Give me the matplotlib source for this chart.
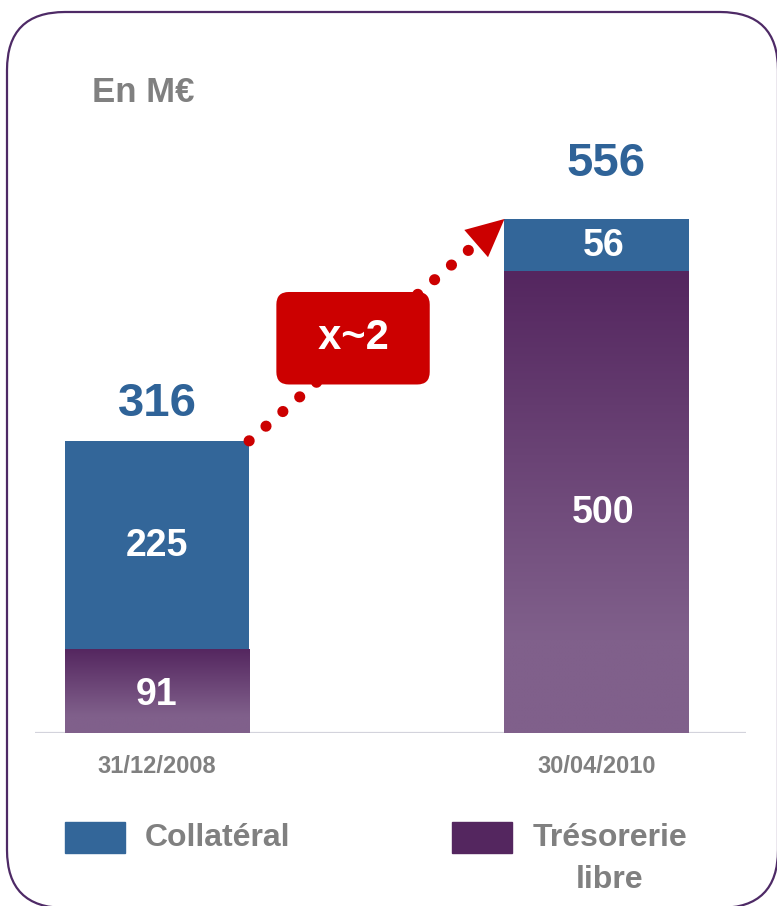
import numpy as np
import matplotlib
matplotlib.use("Agg")
import matplotlib.pyplot as plt
from matplotlib.colors import LinearSegmentedColormap
from matplotlib.patches import FancyBboxPatch, Rectangle
from matplotlib.transforms import IdentityTransform

# ---------------- data ----------------
categories = ["31/12/2008", "30/04/2010"]
collateral = [225, 56]
tresorerie = [91, 500]
totals = [316, 556]
growth_label = "x~2"
unit_label = "En M€"
legend_labels = ["Collatéral", "Trésorerie\nlibre"]

# ---------------- style ----------------
plt.rcParams["font.family"] = ["Liberation Sans", "DejaVu Sans"]
plt.rcParams["font.weight"] = "bold"
BLUE = "#336699"
PURPLE_DARK = "#54265F"
PURPLE_LIGHT = "#80608B"
GRAY = "#808080"
RED = "#CC0000"
BORDER = "#4E2A66"

W, H = 777, 906
fig = plt.figure(figsize=(W / 100, H / 100), dpi=100)
fig.patch.set_facecolor("white")

# rounded frame (display pixels)
frame = FancyBboxPatch((7, H - 908), 771, 896, boxstyle="round,pad=0,rounding_size=58",
                       transform=IdentityTransform(), fill=False, edgecolor=BORDER,
                       linewidth=1.6, zorder=0)
fig.patches.append(frame)

ax = fig.add_axes([35 / W, (H - 733) / H, 711 / W, 693 / H])
x = np.arange(len(categories))
bw = 0.419

bars_t = ax.bar(x, tresorerie, width=bw, color="none", edgecolor="none", zorder=2)
bars_c = ax.bar(x, collateral, bottom=tresorerie, width=bw, color=BLUE,
                edgecolor="none", zorder=2)

# gradient fill for the Trésorerie segments
cmap = LinearSegmentedColormap.from_list("purp", [PURPLE_DARK, PURPLE_LIGHT])
t = np.linspace(0, 1, 256)  # bottom -> top
grad = np.clip((1 - t) / 0.8, 0, 1).reshape(-1, 1)
for p in bars_t:
    x0, y0 = p.get_x(), p.get_y()
    im = ax.imshow(grad, extent=[x0, x0 + p.get_width(), y0, y0 + p.get_height()],
                   aspect="auto", cmap=cmap, vmin=0, vmax=1, origin="lower",
                   zorder=2, interpolation="bilinear")
    im.set_clip_path(p)

ax.set_xlim(-0.2776, 1.340)
ax.set_ylim(0, 693 / 0.9245)
for s in ax.spines.values():
    s.set_visible(False)
ax.set_yticks([])
ax.set_xticks(x, categories)
ax.tick_params(axis="x", length=0, pad=16, labelsize=17, labelcolor=GRAY)
ax.axhline(0, color="#D3D3DC", lw=1.6, zorder=1)

# label nudges (points)
label_dx = [0, 5]
seg_dy = [-3, -8]
total_dy = [11, 24]

# segment labels
for i in x:
    ax.annotate(str(tresorerie[i]), xy=(i, tresorerie[i] / 2), xytext=(label_dx[i], seg_dy[i]),
                textcoords="offset points", ha="center", va="center",
                color="white", fontsize=27, zorder=4)
    ax.annotate(str(collateral[i]), xy=(i, tresorerie[i] + collateral[i] / 2),
                xytext=(label_dx[i], -1), textcoords="offset points",
                ha="center", va="center", color="white", fontsize=27, zorder=4)

# totals
for i in x:
    ax.annotate(str(totals[i]), xy=(i, totals[i]), xytext=(label_dx[i] * 1.4, total_dy[i]),
                textcoords="offset points", ha="center", va="bottom",
                color="#2F6398", fontsize=34, zorder=4)

# dotted growth arrow
start = (x[0] + bw / 2, totals[0])
end = (x[1] - bw / 2, totals[1])
ax.annotate("", xy=end, xytext=start,
            arrowprops=dict(arrowstyle="-", color=RED, lw=8.0,
                            linestyle=(0, (0.01, 2.0)), capstyle="round",
                            shrinkA=0, shrinkB=26), zorder=3)
ax.annotate("", xy=end, xytext=start,
            arrowprops=dict(arrowstyle="-|>,head_length=2.7,head_width=1.3",
                            facecolor=RED, edgecolor="none", lw=0,
                            shrinkA=0, shrinkB=0, mutation_scale=10), zorder=3)

# growth box
ax.text(0.446, 427, " \u200a" + growth_label + " \u200a", ha="center", va="center",
        color="white", fontsize=30, zorder=5,
        bbox=dict(boxstyle="round,pad=0.63,rounding_size=0.3", facecolor=RED,
                  edgecolor="none"))

# unit label
fig.text(92 / W, 1 - 92 / H, unit_label, ha="left", va="center", color=GRAY,
         fontsize=25)

# legend
fig.patches.append(Rectangle((65 / W, 1 - 853 / H), 60 / W, 31 / H,
                             transform=fig.transFigure, color=BLUE))
fig.patches.append(Rectangle((452 / W, 1 - 853 / H), 60 / W, 31 / H,
                             transform=fig.transFigure, color=PURPLE_DARK))
fig.text(145 / W, 1 - 838 / H, legend_labels[0], ha="left", va="center",
         color=GRAY, fontsize=23)
fig.text(610 / W, 1 - 823 / H, legend_labels[1], ha="center", va="top",
         color=GRAY, fontsize=23, multialignment="center", linespacing=1.5)

fig.savefig("out.png", dpi=100)
